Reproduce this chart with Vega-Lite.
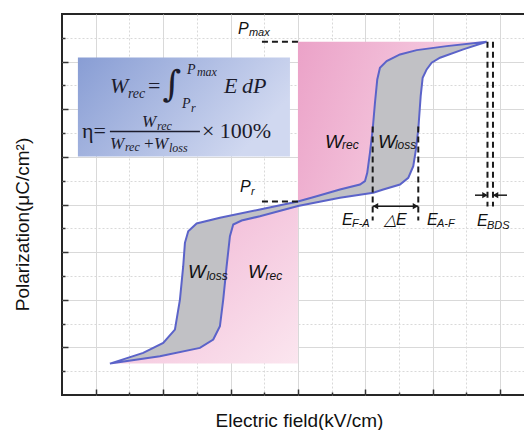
{
  "$schema": "https://vega.github.io/schema/vega-lite/v6.json",
  "width": 463,
  "height": 381,
  "autosize": {"type": "none"},
  "padding": {"left": 62, "top": 14, "right": 0, "bottom": 35},
  "background": "white",
  "config": {"view": {"stroke": "#262626", "strokeWidth": 2}},
  "datasets": {
    "loop": [
      {"i": 1, "u": -5.579, "v": -6.681}, {"i": 2, "u": -4.095, "v": -6.374}, {"i": 3, "u": -2.908, "v": -6.021},
      {"i": 4, "u": -2.513, "v": -5.672}, {"i": 5, "u": -2.315, "v": -5.113}, {"i": 6, "u": -2.217, "v": -3.992},
      {"i": 7, "u": -2.116, "v": -2.592}, {"i": 8, "u": -2.018, "v": -1.332}, {"i": 9, "u": -1.920, "v": -0.840},
      {"i": 10, "u": -1.671, "v": -0.672}, {"i": 11, "u": -1.128, "v": -0.492}, {"i": 12, "u": 0, "v": -0.063},
      {"i": 13, "u": 1.246, "v": 0.282}, {"i": 14, "u": 2.234, "v": 0.492}, {"i": 15, "u": 2.531, "v": 0.630},
      {"i": 16, "u": 3.027, "v": 0.840}, {"i": 17, "u": 3.273, "v": 1.122}, {"i": 18, "u": 3.421, "v": 1.609},
      {"i": 19, "u": 3.501, "v": 2.311}, {"i": 20, "u": 3.570, "v": 3.151}, {"i": 21, "u": 3.641, "v": 4.550},
      {"i": 22, "u": 3.700, "v": 5.324}, {"i": 23, "u": 3.819, "v": 5.672}, {"i": 24, "u": 3.967, "v": 5.954},
      {"i": 25, "u": 4.214, "v": 6.164}, {"i": 26, "u": 4.905, "v": 6.513}, {"i": 27, "u": 5.599, "v": 6.836},
      {"i": 28, "u": 4.412, "v": 6.651}, {"i": 29, "u": 3.522, "v": 6.483}, {"i": 30, "u": 3.027, "v": 6.303},
      {"i": 31, "u": 2.632, "v": 6.021}, {"i": 32, "u": 2.433, "v": 5.744}, {"i": 33, "u": 2.353, "v": 5.252},
      {"i": 34, "u": 2.285, "v": 4.273}, {"i": 35, "u": 2.217, "v": 3.151}, {"i": 36, "u": 2.136, "v": 2.172},
      {"i": 37, "u": 2.056, "v": 1.332}, {"i": 38, "u": 1.988, "v": 0.979}, {"i": 39, "u": 1.840, "v": 0.840},
      {"i": 40, "u": 1.246, "v": 0.630}, {"i": 41, "u": 0.555, "v": 0.349}, {"i": 42, "u": 0, "v": 0.126},
      {"i": 43, "u": -1.128, "v": -0.210}, {"i": 44, "u": -2.315, "v": -0.559}, {"i": 45, "u": -3.006, "v": -0.798},
      {"i": 46, "u": -3.255, "v": -1.122}, {"i": 47, "u": -3.353, "v": -1.609}, {"i": 48, "u": -3.404, "v": -2.592},
      {"i": 49, "u": -3.501, "v": -3.992}, {"i": 50, "u": -3.650, "v": -5.252}, {"i": 51, "u": -3.997, "v": -5.811},
      {"i": 52, "u": -4.591, "v": -6.231}, {"i": 53, "u": -5.579, "v": -6.681}
    ],
    "pinkR": [
      {"i": 1, "u": 0, "v": 6.836}, {"i": 2, "u": 5.599, "v": 6.836}, {"i": 3, "u": 4.412, "v": 6.651},
      {"i": 4, "u": 3.522, "v": 6.483}, {"i": 5, "u": 3.027, "v": 6.303}, {"i": 6, "u": 2.632, "v": 6.021},
      {"i": 7, "u": 2.433, "v": 5.744}, {"i": 8, "u": 2.353, "v": 5.252}, {"i": 9, "u": 2.285, "v": 4.273},
      {"i": 10, "u": 2.217, "v": 3.151}, {"i": 11, "u": 2.136, "v": 2.172}, {"i": 12, "u": 2.056, "v": 1.332},
      {"i": 13, "u": 1.988, "v": 0.979}, {"i": 14, "u": 1.840, "v": 0.840}, {"i": 15, "u": 1.246, "v": 0.630},
      {"i": 16, "u": 0.555, "v": 0.349}, {"i": 17, "u": 0, "v": 0.126}
    ],
    "pinkL": [
      {"i": 1, "u": 0, "v": -6.681}, {"i": 2, "u": -5.579, "v": -6.681}, {"i": 3, "u": -4.095, "v": -6.374},
      {"i": 4, "u": -2.908, "v": -6.021}, {"i": 5, "u": -2.513, "v": -5.672}, {"i": 6, "u": -2.315, "v": -5.113},
      {"i": 7, "u": -2.217, "v": -3.992}, {"i": 8, "u": -2.116, "v": -2.592}, {"i": 9, "u": -2.018, "v": -1.332},
      {"i": 10, "u": -1.920, "v": -0.840}, {"i": 11, "u": -1.671, "v": -0.672}, {"i": 12, "u": -1.128, "v": -0.492},
      {"i": 13, "u": 0, "v": -0.063}
    ],
    "box": [{"u": -6.528, "u2": -0.237, "v": 6.176, "v2": 2.017}],
    "frac": [{"u": -5.579, "u2": -2.908, "v": 3.067, "v2": 3.067}],
    "dashed": [
      {"u": -1.068, "u2": 0, "v": 6.836, "v2": 6.836},
      {"u": -1.068, "u2": 0, "v": 0.126, "v2": 0.126},
      {"u": 5.623, "u2": 5.623, "v": 6.836, "v2": -0.084},
      {"u": 5.786, "u2": 5.786, "v": 6.836, "v2": -0.084},
      {"u": 2.217, "u2": 2.217, "v": 3.277, "v2": -0.672},
      {"u": 3.570, "u2": 3.570, "v": 3.277, "v2": -0.672}
    ],
    "arrows": [
      {"u": 2.217, "u2": 3.570, "v": -0.071, "v2": -0.071},
      {"u": 5.252, "u2": 5.579, "v": 0.391, "v2": 0.391},
      {"u": 5.831, "u2": 6.202, "v": 0.391, "v2": 0.391}
    ],
    "headL": [{"u": 2.300, "v": -0.071}, {"u": 5.861, "v": 0.391}],
    "headR": [{"u": 3.487, "v": -0.071}, {"u": 5.549, "v": 0.391}],
    "fA": [{"u": -5.579, "v": 4.664, "t": "W"}, {"u": -2.196, "v": 4.664, "t": "E"}, {"u": -1.662, "v": 4.664, "t": "dP"}],
    "fB": [{"u": -5.045, "v": 4.454, "t": "rec"}, {"u": -3.294, "v": 5.462, "t": "P"}, {"u": -3.442, "v": 4.034, "t": "P"}],
    "fC": [{"u": -2.997, "v": 5.378, "t": "max"}, {"u": -3.175, "v": 3.866, "t": "r"}],
    "fD": [{"u": -4.451, "v": 4.664, "t": "="}, {"u": -6.409, "v": 2.773, "t": "η="}, {"u": -2.849, "v": 2.773, "t": "× 100%"}],
    "fE": [{"u": -3.739, "v": 5.0, "t": "∫"}],
    "fF": [{"u": -4.629, "v": 3.235, "t": "W"}, {"u": -5.579, "v": 2.311, "t": "W"}, {"u": -4.600, "v": 2.311, "t": "+"}, {"u": -4.273, "v": 2.311, "t": "W"}],
    "fG": [{"u": -4.184, "v": 3.109, "t": "rec"}, {"u": -5.134, "v": 2.227, "t": "rec"}, {"u": -3.828, "v": 2.185, "t": "loss"}],
    "lH": [{"u": 0.801, "v": 2.374, "t": "W"}, {"u": 2.374, "v": 2.374, "t": "W"}, {"u": -3.264, "v": -3.067, "t": "W"}, {"u": -1.484, "v": -3.067, "t": "W"}],
    "lI": [{"u": 1.306, "v": 2.311, "t": "rec"}, {"u": 2.878, "v": 2.311, "t": "loss"}, {"u": -2.715, "v": -3.151, "t": "loss"}, {"u": -0.964, "v": -3.151, "t": "rec"}],
    "lJ": [{"u": -1.780, "v": 7.143, "t": "P"}, {"u": -1.721, "v": 0.504, "t": "P"}, {"u": 1.306, "v": -0.840, "t": "E"}, {"u": 2.552, "v": -0.840, "t": "△E"}, {"u": 3.828, "v": -0.840, "t": "E"}, {"u": 5.312, "v": -0.882, "t": "E"}],
    "lK": [{"u": -1.454, "v": 7.059, "t": "max"}, {"u": -1.395, "v": 0.378, "t": "r"}, {"u": 1.602, "v": -0.924, "t": "F-A"}, {"u": 4.125, "v": -0.924, "t": "A-F"}, {"u": 5.608, "v": -1.008, "t": "BDS"}]
  },
  "encoding": {
    "x": {
      "field": "u", "type": "quantitative",
      "scale": {"domain": [-7, 6.736], "nice": false, "zero": false},
      "axis": {
        "values": [-6, -5, -4, -3, -2, -1, 0, 1, 2, 3, 4, 5, 6],
        "labels": false, "domain": false,
        "title": "Electric field(kV/cm)", "titleFont": "Liberation Sans", "titleFontSize": 19,
        "titleFontWeight": "normal", "titleColor": "#111", "titleX": 237, "titleY": 25, "titleBaseline": "middle",
        "tickColor": "#333", "tickWidth": 1.5,
        "tickSize": {"condition": {"test": "datum.value % 2 === 0", "value": -6}, "value": -3},
        "grid": true, "gridColor": "#d9d9d9", "gridWidth": 1,
        "gridDash": {"condition": {"test": "datum.value % 2 !== 0", "value": [2, 2]}, "value": []}
      }
    },
    "y": {
      "field": "v", "type": "quantitative",
      "scale": {"domain": [-8, 8], "nice": false, "zero": false},
      "axis": {
        "values": [-7, -6, -5, -4, -3, -2, -1, 0, 1, 2, 3, 4, 5, 6, 7],
        "labels": false, "domain": false,
        "title": "Polarization(μC/cm²)", "titleFont": "Liberation Sans", "titleFontSize": 19,
        "titleFontWeight": "normal", "titleColor": "#111", "titleX": -40, "titleY": 210, "titleBaseline": "middle",
        "tickColor": "#333", "tickWidth": 1.5,
        "tickSize": {"condition": {"test": "datum.value % 2 === 0", "value": -6}, "value": -3},
        "grid": true, "gridColor": "#d9d9d9", "gridWidth": 1,
        "gridDash": {"condition": {"test": "datum.value % 2 !== 0", "value": [2, 2]}, "value": []}
      }
    }
  },
  "layer": [
    {
      "data": {"name": "box"},
      "mark": {"type": "rect", "fill": {"gradient": "linear", "x1": 0, "y1": 0, "x2": 1, "y2": 0.4, "stops": [{"offset": 0, "color": "#889dd4"}, {"offset": 1, "color": "#d0d8f0"}]}},
      "encoding": {"x2": {"field": "u2"}, "y2": {"field": "v2"}}
    },
    {
      "data": {"name": "pinkR"},
      "mark": {"type": "line", "strokeWidth": 0, "fill": {"gradient": "linear", "x1": 0, "y1": 0, "x2": 1, "y2": 0.3, "stops": [{"offset": 0, "color": "#eba2c8"}, {"offset": 1, "color": "#f8d6e6"}]}},
      "encoding": {"order": {"field": "i", "type": "quantitative"}}
    },
    {
      "data": {"name": "pinkL"},
      "mark": {"type": "line", "strokeWidth": 0, "fill": {"gradient": "linear", "x1": 0, "y1": 0, "x2": 1, "y2": 1, "stops": [{"offset": 0, "color": "#efaed0"}, {"offset": 1, "color": "#fbe6ef"}]}},
      "encoding": {"order": {"field": "i", "type": "quantitative"}}
    },
    {
      "data": {"name": "loop"},
      "mark": {"type": "line", "fill": "#c1c1c5", "stroke": "#5b63c9", "strokeWidth": 2},
      "encoding": {"order": {"field": "i", "type": "quantitative"}}
    },
    {
      "data": {"name": "dashed"},
      "mark": {"type": "rule", "color": "#1a1a1a", "strokeWidth": 2, "strokeDash": [6, 4]},
      "encoding": {"x2": {"field": "u2"}, "y2": {"field": "v2"}}
    },
    {
      "data": {"name": "arrows"},
      "mark": {"type": "rule", "color": "#1a1a1a", "strokeWidth": 1.5},
      "encoding": {"x2": {"field": "u2"}, "y2": {"field": "v2"}}
    },
    {
      "data": {"name": "frac"},
      "mark": {"type": "rule", "color": "#1c1c2c", "strokeWidth": 1.5},
      "encoding": {"x2": {"field": "u2"}, "y2": {"field": "v2"}}
    },
    {
      "data": {"name": "headL"},
      "mark": {"type": "point", "shape": "triangle-left", "filled": true, "color": "#1a1a1a", "size": 40, "opacity": 1}
    },
    {
      "data": {"name": "headR"},
      "mark": {"type": "point", "shape": "triangle-right", "filled": true, "color": "#1a1a1a", "size": 40, "opacity": 1}
    },
    {
      "data": {"name": "fA"},
      "mark": {"type": "text", "font": "Liberation Serif", "fontStyle": "italic", "fontSize": 22, "align": "left", "baseline": "alphabetic", "color": "#1c1c2c"},
      "encoding": {"text": {"field": "t"}}
    },
    {
      "data": {"name": "fB"},
      "mark": {"type": "text", "font": "Liberation Serif", "fontStyle": "italic", "fontSize": 14, "align": "left", "baseline": "alphabetic", "color": "#1c1c2c"},
      "encoding": {"text": {"field": "t"}}
    },
    {
      "data": {"name": "fC"},
      "mark": {"type": "text", "font": "Liberation Serif", "fontStyle": "italic", "fontSize": 12, "align": "left", "baseline": "alphabetic", "color": "#1c1c2c"},
      "encoding": {"text": {"field": "t"}}
    },
    {
      "data": {"name": "fD"},
      "mark": {"type": "text", "font": "Liberation Serif", "fontSize": 22, "align": "left", "baseline": "alphabetic", "color": "#1c1c2c"},
      "encoding": {"text": {"field": "t"}}
    },
    {
      "data": {"name": "fE"},
      "mark": {"type": "text", "font": "DejaVu Serif", "fontSize": 36, "align": "center", "baseline": "middle", "color": "#1c1c2c"},
      "encoding": {"text": {"field": "t"}}
    },
    {
      "data": {"name": "fF"},
      "mark": {"type": "text", "font": "Liberation Serif", "fontStyle": "italic", "fontSize": 17, "align": "left", "baseline": "alphabetic", "color": "#1c1c2c"},
      "encoding": {"text": {"field": "t"}}
    },
    {
      "data": {"name": "fG"},
      "mark": {"type": "text", "font": "Liberation Serif", "fontStyle": "italic", "fontSize": 12, "align": "left", "baseline": "alphabetic", "color": "#1c1c2c"},
      "encoding": {"text": {"field": "t"}}
    },
    {
      "data": {"name": "lH"},
      "mark": {"type": "text", "font": "Liberation Sans", "fontStyle": "italic", "fontSize": 19, "align": "left", "baseline": "alphabetic", "color": "#111"},
      "encoding": {"text": {"field": "t"}}
    },
    {
      "data": {"name": "lI"},
      "mark": {"type": "text", "font": "Liberation Sans", "fontStyle": "italic", "fontSize": 12, "align": "left", "baseline": "alphabetic", "color": "#111"},
      "encoding": {"text": {"field": "t"}}
    },
    {
      "data": {"name": "lJ"},
      "mark": {"type": "text", "font": "Liberation Sans", "fontStyle": "italic", "fontSize": 16, "align": "left", "baseline": "alphabetic", "color": "#111"},
      "encoding": {"text": {"field": "t"}}
    },
    {
      "data": {"name": "lK"},
      "mark": {"type": "text", "font": "Liberation Sans", "fontStyle": "italic", "fontSize": 11, "align": "left", "baseline": "alphabetic", "color": "#111"},
      "encoding": {"text": {"field": "t"}}
    }
  ]
}
